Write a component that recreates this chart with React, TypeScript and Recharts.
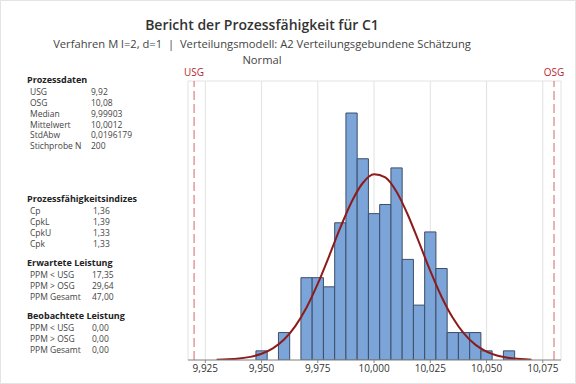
import React from 'react';
import { ComposedChart, Bar, Line, XAxis, YAxis, CartesianGrid, ReferenceLine } from 'recharts';

// histogram bins (centre of each 0.005 wide class) and counts
const binCentres = [9.95, 9.955, 9.96, 9.965, 9.97, 9.975, 9.98, 9.985, 9.99, 9.995, 10.0, 10.005, 10.01, 10.015, 10.02, 10.025, 10.03, 10.035, 10.04, 10.045, 10.05, 10.055, 10.06];
const binCounts = [1, null, 3, null, 9, 9, 8, 15, 27, 22, 16, 17, 21, 11, 6, 14, 10, 3, 3, 3, 1, null, 1];

// fitted normal curve
const curveX = [9.93, 9.935, 9.94, 9.945, 9.95, 9.955, 9.96, 9.965, 9.97, 9.975, 9.98, 9.985, 9.99, 9.995, 10.0, 10.005, 10.01, 10.015, 10.02, 10.025, 10.03, 10.035, 10.04, 10.045, 10.05, 10.055, 10.06, 10.065, 10.07];
const curveY = [0.03, 0.07, 0.16, 0.34, 0.68, 1.27, 2.24, 3.71, 5.74, 8.34, 11.34, 14.46, 17.28, 19.35, 20.3, 19.96, 18.39, 15.88, 12.85, 9.74, 6.92, 4.61, 2.88, 1.68, 0.92, 0.47, 0.23, 0.1, 0.04];

const xTicks = [9.925, 9.95, 9.975, 10.0, 10.025, 10.05, 10.075];
const yTicks = [0, 5, 10, 15, 20, 25, 30];
const usg = 9.92;
const osg = 10.08;

const title = 'Bericht der Prozessfähigkeit für C1';
const subtitle = 'Verfahren M l=2, d=1  |  Verteilungsmodell: A2 Verteilungsgebundene Schätzung';
const subtitle2 = 'Normal';

const processData = [
  ['USG', '9,92'],
  ['OSG', '10,08'],
  ['Median', '9,99903'],
  ['Mittelwert', '10,0012'],
  ['StdAbw', '0,0196179'],
  ['Stichprobe N', '200'],
];
const indices = [
  ['Cp', '1,36'],
  ['CpkL', '1,39'],
  ['CpkU', '1,33'],
  ['Cpk', '1,33'],
];
const expected = [
  ['PPM < USG', '17,35'],
  ['PPM > OSG', '29,64'],
  ['PPM Gesamt', '47,00'],
];
const observed = [
  ['PPM < USG', '0,00'],
  ['PPM > OSG', '0,00'],
  ['PPM Gesamt', '0,00'],
];

const sections = [
  { head: 'Prozessdaten', rows: processData, top: 74, valX: 90 },
  { head: 'Prozessfähigkeitsindizes', rows: indices, top: 193, valX: 92 },
  { head: 'Erwartete Leistung', rows: expected, top: 257, valX: 91 },
  { head: 'Beobachtete Leistung', rows: observed, top: 310, valX: 91 },
];

// merge bins and curve into one table keyed on x
const key = (x: number) => Math.round(x * 10000);
const rowMap = new Map<number, { x: number; count?: number | null; fit?: number }>();
curveX.forEach((x, i) => rowMap.set(key(x), { x, fit: curveY[i] }));
binCentres.forEach((x, i) => {
  const r = rowMap.get(key(x)) ?? { x };
  r.count = binCounts[i];
  rowMap.set(key(x), r);
});
const data = Array.from(rowMap.values()).sort((a, b) => a.x - b.x);

const font = '"Open Sans", "Noto Sans", sans-serif';
const fmt = (v: number) => v.toFixed(3).replace('.', ',');

export default function App() {
  return (
    <div style={{ position: 'absolute', left: 0, top: 0, width: 576, height: 384, background: '#fff', border: '1px solid #e4e4e4', boxSizing: 'border-box', fontFamily: font, overflow: 'hidden' }}>
      <div style={{ position: 'absolute', left: 0, width: 522, top: 14, textAlign: 'center', fontSize: 14, fontWeight: 600, color: '#333' }}>{title}</div>
      <div style={{ position: 'absolute', left: 0, width: 522, top: 35, textAlign: 'center', fontSize: 11.2, color: '#444', whiteSpace: 'pre' }}>{subtitle}</div>
      <div style={{ position: 'absolute', left: 0, width: 522, top: 51, textAlign: 'center', fontSize: 11.2, color: '#444' }}>{subtitle2}</div>

      {sections.map(s => (
        <div key={s.head} style={{ position: 'absolute', left: 26, top: s.top, fontSize: 8.5, color: '#444', lineHeight: '10.9px' }}>
          <div style={{ fontWeight: 700, color: '#222', fontSize: 9, marginBottom: 1 }}>{s.head}</div>
          {s.rows.map(([k, v]) => (
            <div key={k} style={{ position: 'relative', height: 10.9 }}>
              <span style={{ position: 'absolute', left: 3 }}>{k}</span>
              <span style={{ position: 'absolute', left: s.valX - 26 }}>{v}</span>
            </div>
          ))}
        </div>
      ))}

      <div style={{ position: 'absolute', left: 0, top: 0 }}>
        <ComposedChart width={576} height={384} data={data} margin={{ top: 80, right: 16, bottom: 0, left: 187 }} barGap={0} barCategoryGap={0}>
          <CartesianGrid stroke="#e2e2e2" strokeWidth={1} />
          <XAxis dataKey="x" type="number" domain={[9.9173, 10.0831]} allowDataOverflow ticks={xTicks} interval={0} height={25}
            tickFormatter={fmt} tick={{ fill: '#333', fontSize: 10, fontFamily: font }} tickSize={3}
            axisLine={{ stroke: '#8a8a8a' }} tickLine={{ stroke: '#8a8a8a' }} />
          <XAxis xAxisId="top" dataKey="x" type="number" orientation="top" domain={[9.9173, 10.0831]} allowDataOverflow height={0} tick={false} tickLine={false} axisLine={{ stroke: '#b4b4b4' }} />
          <YAxis type="number" domain={[0, 30.5]} ticks={yTicks} allowDataOverflow width={0} tick={false} tickLine={false} axisLine={{ stroke: '#b4b4b4' }} />
          <YAxis yAxisId="r" orientation="right" type="number" domain={[0, 30.5]} width={0} tick={false} tickLine={false} axisLine={{ stroke: '#b4b4b4' }} />
          <Bar dataKey="count" barSize={11.24} fill="#7ba4d9" stroke="#3d4e68" strokeWidth={1} isAnimationActive={false} />
          <Line dataKey="fit" type="monotone" dot={false} stroke="#8e1b1b" strokeWidth={2} isAnimationActive={false} />
          <ReferenceLine x={usg} stroke="#d0686b" strokeDasharray="9 4" label={{ value: 'USG', position: 'top', fill: '#b8282e', fontSize: 10, fontFamily: font }} />
          <ReferenceLine x={osg} stroke="#d0686b" strokeDasharray="9 4" label={{ value: 'OSG', position: 'top', fill: '#b8282e', fontSize: 10, fontFamily: font }} />
        </ComposedChart>
      </div>
    </div>
  );
}
